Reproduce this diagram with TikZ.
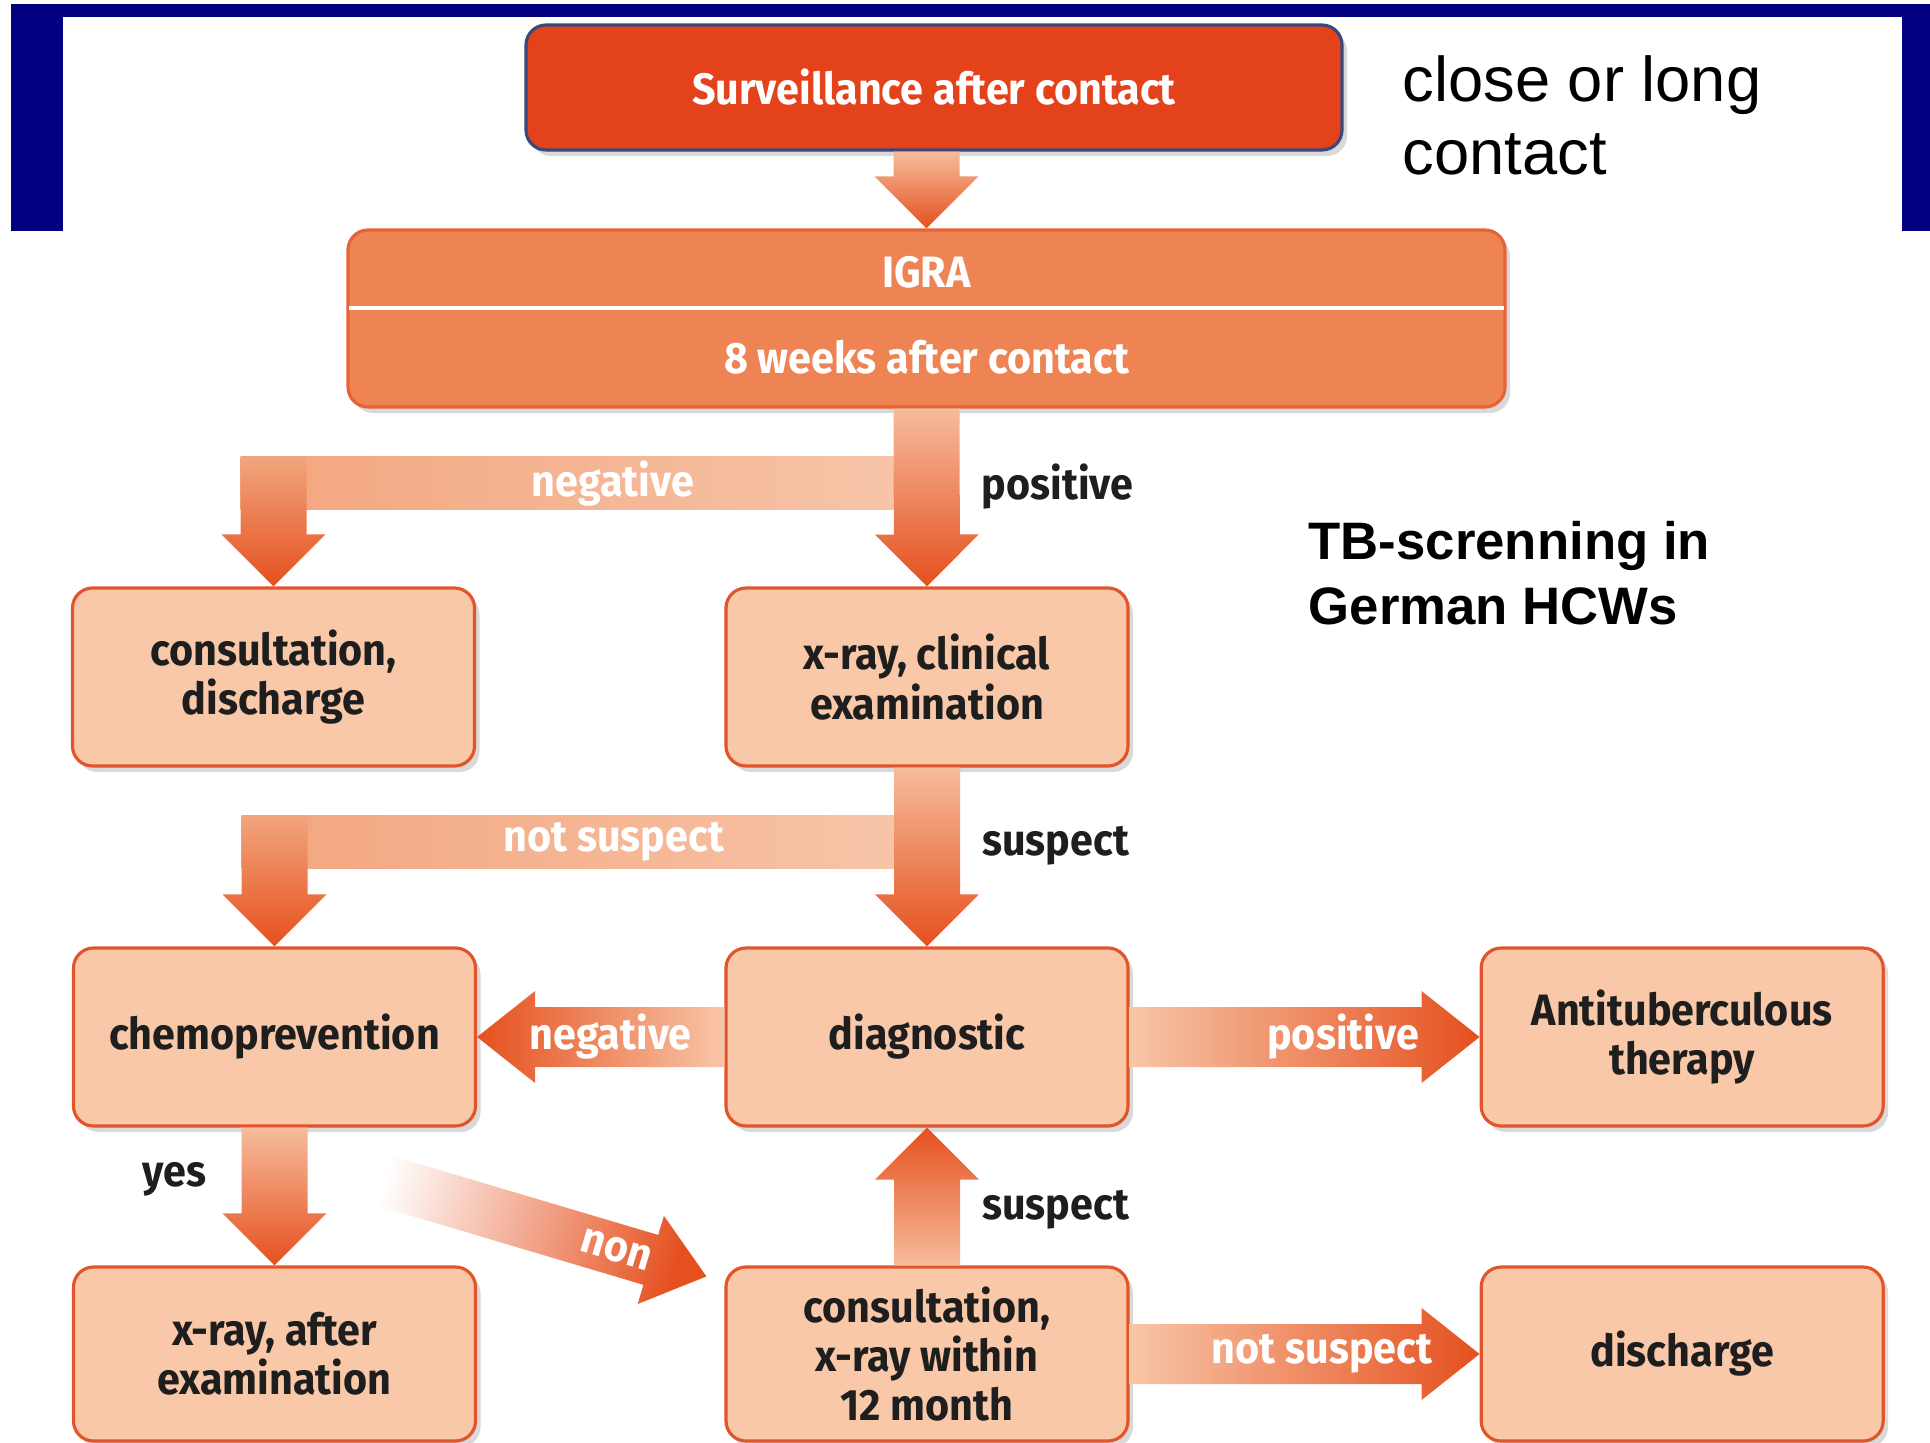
\documentclass[tikz,border=0pt]{standalone}
\usepackage{fontspec}
\setmainfont{Liberation Sans}
\newfontfamily\flowfont{Fira Sans}[FakeStretch=0.94]
\usetikzlibrary{positioning, calc, shadows}

\definecolor{frameblue}{RGB}{0,0,128}
\definecolor{survred}{RGB}{228,66,26}
\definecolor{survedge}{RGB}{60,72,120}
\definecolor{igrafill}{RGB}{238,132,84}
\definecolor{igraedge}{RGB}{232,98,50}
\definecolor{boxfill}{RGB}{248,200,168}
\definecolor{boxedge}{RGB}{225,85,42}
\definecolor{arrlight}{RGB}{246,188,156}
\definecolor{arrdark}{RGB}{229,80,30}
\definecolor{barcol}{RGB}{242,165,125}
\definecolor{barlight}{RGB}{247,196,168}
\definecolor{hlight}{RGB}{248,198,168}
\definecolor{txtdark}{RGB}{30,30,30}

\begin{document}
\begin{tikzpicture}[
    flow text/.style={font=\flowfont\bfseries\fontsize{12.5}{14}\selectfont},
    box/.style={flow text, draw=boxedge, line width=0.9pt, fill=boxfill, text=txtdark,
      rounded corners=0.2cm, minimum width=4.02cm, minimum height=1.78cm, align=center,
      drop shadow={shadow xshift=0.05cm, shadow yshift=-0.06cm, opacity=0.3}},
    topbox/.style={box, draw=survedge, fill=survred, text=white, minimum width=8.16cm, minimum height=1.25cm},
    igrabox/.style={box, draw=igraedge, fill=igrafill, minimum width=11.57cm, minimum height=1.77cm},
    on arrow/.style={flow text, text=white},
    beside/.style={flow text, text=txtdark},
    block/.style n args={3}{to path={
      -- ($(\tikztostart)!#1!90:(\tikztotarget)$)
      -- ($($(\tikztotarget)!#3!(\tikztostart)$)!#1!90:(\tikztotarget)$)
      -- ($($(\tikztotarget)!#3!(\tikztostart)$)!#2!90:(\tikztotarget)$)
      -- (\tikztotarget)
      -- ($($(\tikztotarget)!#3!(\tikztostart)$)!#2!-90:(\tikztotarget)$)
      -- ($($(\tikztotarget)!#3!(\tikztostart)$)!#1!-90:(\tikztotarget)$)
      -- ($(\tikztostart)!#1!-90:(\tikztotarget)$) -- cycle}},
    vblock/.style={block={0.33cm}{0.52cm}{0.52cm}},
    hblock/.style={block={0.30cm}{0.46cm}{0.58cm}},
    fall/.style={top color=arrlight, bottom color=arrdark},
    rise/.style={top color=arrdark, bottom color=arrlight},
    leg/.style={top color=barcol, bottom color=arrdark}
]
\useasboundingbox (0,0) rectangle (19.30,-14.43);

% Frame
\fill[frameblue] (0.11,-0.04) rectangle (19.30,-0.17);
\fill[frameblue] (0.11,-0.04) rectangle (0.63,-2.31);
\fill[frameblue] (19.02,-0.04) rectangle (19.30,-2.31);

% Boxes
\node[topbox] (surv) at (9.34,-0.875) {Surveillance after contact};
\node[igrabox] (igra) at (9.265,-3.185) {};
\draw[white, line width=1.2pt] ($(igra.west)+(0.03,0.105)$) -- ($(igra.east)+(-0.03,0.105)$);
\node[flow text, text=white] (igratitle) at ($(igra.center)+(0,0.465)$) {IGRA};
\node[flow text, text=white] (igrawhen) at ($(igra.center)+(0,-0.385)$) {8 weeks after contact};

\node[box] (cons1) at (2.735,-6.77) {consultation,\\discharge};
\node[box] (xray) at (9.27,-6.77) {x-ray, clinical\\examination};
\node[box] (chemo) at (2.745,-10.37) {chemoprevention};
\node[box] (diag) at (9.27,-10.37) {diagnostic};
\node[box, right=3.5cm of diag] (anti) {Antituberculous\\therapy};
\node[box, minimum height=1.74cm] (xray2) at (2.745,-13.54) {x-ray, after\\examination};
\node[box, minimum height=1.74cm] (cons2) at (9.27,-13.54) {consultation,\\x-ray within\\12 month};
\node[box, minimum height=1.74cm, right=3.5cm of cons2] (disc) {discharge};

% Surveillance -> IGRA
\coordinate (survfoot) at (igra.north |- surv.south);
\shade[fall] (survfoot) to[vblock] (igra.north);

% IGRA -> negative / positive
\coordinate (negR) at ($(igra.south)+(0,-0.48)$);
\coordinate (negL) at (cons1.north |- negR);
\shade[left color=barcol, right color=barlight] ($(negL)+(-0.33,0)$) rectangle ($(negR)+(-0.33,-0.53)$);
\shade[leg] (negL) to[vblock] (cons1.north);
\shade[fall] (igra.south) to[vblock] (xray.north);
\node[on arrow] (negtxt) at ($(negL)!0.52!(negR)+(0,-0.265)$) {negative};
\node[beside, anchor=west] (postxt) at ($(igra.south)+(0.43,-0.78)$) {positive};

% x-ray -> not suspect / suspect
\coordinate (nsR) at ($(xray.south)+(0,-0.48)$);
\coordinate (nsL) at (chemo.north |- nsR);
\shade[left color=barcol, right color=barlight] ($(nsL)+(-0.33,0)$) rectangle ($(nsR)+(-0.33,-0.53)$);
\shade[leg] (nsL) to[vblock] (chemo.north);
\shade[fall] (xray.south) to[vblock] (diag.north);
\node[on arrow] (nstxt) at ($(nsL)!0.52!(nsR)+(0,-0.265)$) {not suspect};
\node[beside, anchor=west] (sustxt) at ($(xray.south)+(0.43,-0.78)$) {suspect};

% Diagnostic -> negative / positive
\shade[left color=arrdark, right color=hlight] (diag.west) to[hblock] (chemo.east);
\node[on arrow] (dnegtxt) at ($(diag.west)!0.46!(chemo.east)$) {negative};
\shade[left color=hlight, right color=arrdark] (diag.east) to[hblock] (anti.west);
\node[on arrow] (dpostxt) at ($(diag.east)!0.61!(anti.west)$) {positive};

% Chemoprevention -> yes / non
\shade[fall] (chemo.south) to[vblock] (xray2.north);
\node[beside, anchor=east] (yestxt) at ($(chemo.south)+(-0.56,-0.52)$) {yes};
\coordinate (nonA) at ($(chemo.south)+(0.86,-0.46)$);
\coordinate (nonB) at ($(cons2.north west)+(-0.18,-0.11)$);
\shade[left color=white, right color=arrdark, shading angle=73] (nonA) to[block={0.26cm}{0.46cm}{0.58cm}] (nonB);
\node[on arrow, rotate=-16.7] (nontxt) at ($(nonA)!0.74!(nonB)$) {non};

% Consultation -> suspect / not suspect
\shade[rise] (cons2.north) to[vblock] (diag.south);
\node[beside, anchor=west] (sus2txt) at ($(cons2.north)+(0.43,0.56)$) {suspect};
\shade[left color=hlight, right color=arrdark] (cons2.east) to[hblock] (disc.west);
\node[on arrow] (ns2txt) at ($(cons2.east)!0.55!(disc.west)$) {not suspect};

% Side texts
\node[anchor=north west, align=left, inner sep=0pt, font=\fontsize{18}{20.7}\selectfont] (closetxt) at (14.02,-0.55) {close or long\\contact};
\node[anchor=north west, align=left, inner sep=0pt, font=\bfseries\fontsize{15}{18.4}\selectfont] (tbtxt) at (13.08,-5.21) {TB-screnning in\\German HCWs};

\end{tikzpicture}
\end{document}
